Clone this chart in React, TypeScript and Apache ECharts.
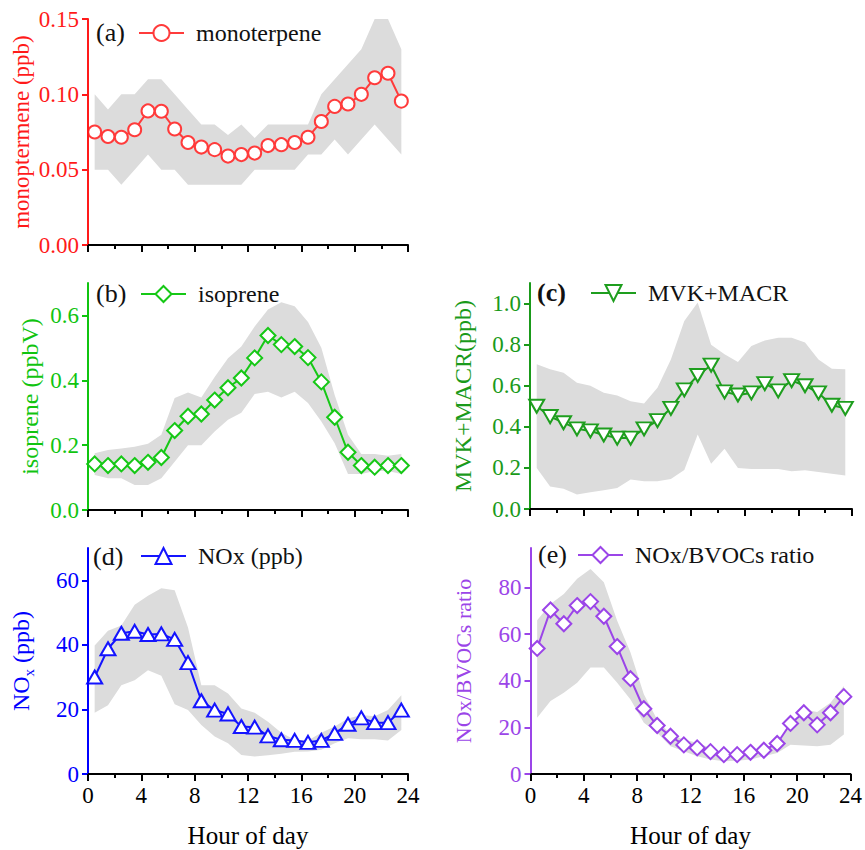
import React, { useEffect, useRef } from "react";
import * as echarts from "echarts";

const hours = [0.5, 1.5, 2.5, 3.5, 4.5, 5.5, 6.5, 7.5, 8.5, 9.5, 10.5, 11.5, 12.5, 13.5, 14.5, 15.5, 16.5, 17.5, 18.5, 19.5, 20.5, 21.5, 22.5, 23.5];
const xTickLabels = [0, 4, 8, 12, 16, 20, 24];

const monoterpene = [0.075, 0.072, 0.0715, 0.0765, 0.089, 0.0888, 0.077, 0.068, 0.065, 0.0633, 0.059, 0.06, 0.061, 0.066, 0.0666, 0.068, 0.0715, 0.082, 0.092, 0.0936, 0.1, 0.111, 0.114, 0.0955];
const monoLow = [0.05, 0.05, 0.04, 0.05, 0.06, 0.05, 0.05, 0.04, 0.04, 0.04, 0.04, 0.04, 0.05, 0.05, 0.05, 0.05, 0.06, 0.06, 0.07, 0.06, 0.07, 0.08, 0.07, 0.06];
const monoHigh = [0.1, 0.09, 0.1, 0.1, 0.11, 0.11, 0.1, 0.09, 0.08, 0.08, 0.073, 0.08, 0.071, 0.08, 0.08, 0.08, 0.08, 0.1, 0.11, 0.12, 0.13, 0.15, 0.15, 0.13];

const isoprene = [0.142, 0.137, 0.142, 0.137, 0.147, 0.162, 0.245, 0.289, 0.296, 0.339, 0.377, 0.407, 0.469, 0.538, 0.51, 0.504, 0.47, 0.395, 0.286, 0.178, 0.137, 0.132, 0.137, 0.137];
const isoLow = [0.108, 0.098, 0.098, 0.077, 0.077, 0.098, 0.149, 0.2, 0.2, 0.242, 0.278, 0.3, 0.358, 0.365, 0.347, 0.365, 0.33, 0.273, 0.206, 0.111, 0.111, 0.12, 0.12, 0.111];
const isoHigh = [0.175, 0.185, 0.19, 0.195, 0.204, 0.232, 0.345, 0.362, 0.347, 0.41, 0.468, 0.504, 0.566, 0.618, 0.641, 0.628, 0.58, 0.5, 0.355, 0.232, 0.173, 0.173, 0.167, 0.173];

const mvkMacr = [0.5, 0.45, 0.42, 0.39, 0.38, 0.36, 0.345, 0.345, 0.39, 0.43, 0.49, 0.58, 0.65, 0.7, 0.57, 0.555, 0.565, 0.61, 0.575, 0.625, 0.6, 0.565, 0.505, 0.49];
const mvkLow = [0.2, 0.11, 0.098, 0.07, 0.081, 0.091, 0.102, 0.143, 0.135, 0.135, 0.146, 0.19, 0.363, 0.22, 0.293, 0.2, 0.195, 0.195, 0.195, 0.184, 0.189, 0.18, 0.172, 0.163];
const mvkHigh = [0.704, 0.68, 0.663, 0.615, 0.6, 0.566, 0.553, 0.525, 0.514, 0.59, 0.728, 0.915, 1.005, 0.8, 0.753, 0.715, 0.793, 0.82, 0.834, 0.834, 0.81, 0.728, 0.683, 0.68];

const nox = [30.05, 38.8, 43.6, 44.2, 43.2, 43.4, 41.7, 34.5, 22.7, 19.8, 18.6, 14.7, 14.5, 11.8, 10.6, 10.4, 9.8, 10.4, 12.6, 15.4, 17.4, 15.9, 15.9, 19.8];
const noxLow = [19, 21.3, 27.5, 29, 32.1, 30.4, 21.6, 19.8, 15.2, 11.6, 9.5, 5.9, 5.4, 5.8, 6.3, 6.9, 7, 7.5, 9.5, 11.1, 10.8, 10.8, 10.4, 13.6];
const noxHigh = [39.8, 44.4, 46, 52.4, 55.2, 57.5, 56.9, 45.4, 27.5, 27.5, 24.9, 20.3, 19, 16.2, 12.8, 10.6, 10.4, 12.8, 14.7, 17.2, 18.3, 17.9, 19.8, 24.4];

const ratio = [53.9, 70.4, 64.5, 72.3, 74, 67.7, 54.7, 40.9, 28, 20.8, 16.2, 12.5, 11.2, 9.6, 8.3, 8.3, 9.3, 10.2, 13.1, 21.7, 26.3, 21.1, 26.3, 33.2];
const ratioLow = [24.1, 31.3, 34.9, 39.2, 45.7, 45.7, 39.2, 32, 22, 17.7, 11.9, 9.8, 7.6, 6.2, 5.5, 5.7, 6.2, 7.6, 9, 12.6, 12.2, 11.9, 12.6, 17];
const ratioHigh = [66, 73, 77.3, 83.8, 88, 82.3, 65.8, 52.2, 34.2, 23.4, 17, 14.8, 13.4, 11.2, 9, 8.3, 7.9, 9, 13.4, 21.3, 27.7, 26.6, 30.6, 37.8];

const yTicksA = [0, 0.05, 0.1, 0.15];
const yTicksB = [0, 0.2, 0.4, 0.6];
const yTicksC = [0, 0.2, 0.4, 0.6, 0.8, 1.0];
const yTicksD = [0, 20, 40, 60];
const yTicksE = [0, 20, 40, 60, 80];

const FONT = "Liberation Serif";
const BAND = "#dcdcdc";

type Panel = {
  key: string;
  label: string;
  bold?: boolean;
  name: string;
  values: number[];
  low: number[];
  high: number[];
  color: string;
  axisColor: string;
  symbol: string;
  symbolSize: number | number[];
  symbolRotate?: number;
  grid: { left: number; top: number; width: number; height: number };
  yMax: number;
  yTicks: number[];
  decimals: number;
  yName: string;
  yNameGap: number;
  yNameSize: number;
  yNamePad?: number[];
  showX: boolean;
  labelPos: [number, number];
  legendPos: [number, number];
};

const panels: Panel[] = [
  {
    key: "a", label: "(a)", name: "monoterpene", values: monoterpene, low: monoLow, high: monoHigh,
    color: "#ff3b3b", axisColor: "#ff1a1a", symbol: "circle", symbolSize: 13,
    grid: { left: 88, top: 19, width: 320, height: 226 }, yMax: 0.15, yTicks: yTicksA, decimals: 2,
    yName: "monoptermene (ppb)", yNameGap: 55, yNameSize: 23, showX: false,
    labelPos: [96, 33], legendPos: [138, 33],
  },
  {
    key: "b", label: "(b)", name: "isoprene", values: isoprene, low: isoLow, high: isoHigh,
    color: "#16c816", axisColor: "#10c410", symbol: "diamond", symbolSize: 15,
    grid: { left: 88, top: 283, width: 320, height: 227 }, yMax: 0.7, yTicks: yTicksB, decimals: 1,
    yName: "isoprene (ppbV)", yNameGap: 46, yNameSize: 24, showX: false,
    labelPos: [96, 294], legendPos: [140, 294],
  },
  {
    key: "c", label: "(c)", bold: true, name: "MVK+MACR", values: mvkMacr, low: mvkLow, high: mvkHigh,
    color: "#1e9e1e", axisColor: "#1a9a1a", symbol: "triangle", symbolSize: [15, 13], symbolRotate: 180,
    grid: { left: 530, top: 283, width: 322, height: 226 }, yMax: 1.1, yTicks: yTicksC, decimals: 1,
    yName: "MVK+MACR(ppb)", yNameGap: 55, yNameSize: 24, showX: false,
    labelPos: [537, 293], legendPos: [590, 293],
  },
  {
    key: "d", label: "(d)", name: "NOx (ppb)", values: nox, low: noxLow, high: noxHigh,
    color: "#1414ff", axisColor: "#0000ff", symbol: "triangle", symbolSize: [15, 13],
    grid: { left: 88, top: 548, width: 320, height: 226 }, yMax: 70, yTicks: yTicksD, decimals: 0,
    yName: "{n|NO}{s|x}{n| (ppb)}", yNameGap: 52, yNameSize: 24, showX: true,
    labelPos: [93, 557], legendPos: [140, 556],
  },
  {
    key: "e", label: "(e)", name: "NOx/BVOCs ratio", values: ratio, low: ratioLow, high: ratioHigh,
    color: "#9b45e8", axisColor: "#9b45e8", symbol: "diamond", symbolSize: 15,
    grid: { left: 530.5, top: 548, width: 321.5, height: 226 }, yMax: 97, yTicks: yTicksE, decimals: 0,
    yName: "NOx/BVOCs ratio", yNameGap: 56, yNameSize: 22, showX: true,
    labelPos: [538, 555], legendPos: [577, 555],
  },
];

export default function App() {
  const ref = useRef<HTMLDivElement>(null);
  useEffect(() => {
    if (!ref.current) return;
    const chart = echarts.init(ref.current, null, { renderer: "svg" });

    const grid: any[] = [];
    const xAxis: any[] = [];
    const yAxis: any[] = [];
    const series: any[] = [];
    const legend: any[] = [];
    const graphic: any[] = [];

    panels.forEach((p, i) => {
      grid.push({ ...p.grid, containLabel: false });
      xAxis.push({
        gridIndex: i, type: "value", min: 0, max: 24, interval: 4,
        axisLine: { show: true, onZero: false, lineStyle: { color: "#000", width: 2 } },
        axisTick: { show: true, length: 7, lineStyle: { color: "#000", width: 2 } },
        minorTick: { show: true, splitNumber: 2, length: 4, lineStyle: { color: "#000", width: 2 } },
        splitLine: { show: false }, minorSplitLine: { show: false },
        axisLabel: {
          show: p.showX, color: "#000", fontSize: 23, fontFamily: FONT, margin: 10,
          customValues: xTickLabels,
        },
        name: p.showX ? "Hour of day" : "",
        nameLocation: "middle", nameGap: 49,
        nameTextStyle: { color: "#000", fontSize: 25, fontFamily: FONT },
        z: 10,
      });
      const nameStyle: any = { color: p.axisColor, fontSize: p.yNameSize, fontFamily: FONT };
      if (p.key === "d") {
        nameStyle.rich = {
          n: { color: p.axisColor, fontSize: 24, fontFamily: FONT, lineHeight: 30 },
          s: { color: p.axisColor, fontSize: 15, fontFamily: FONT, lineHeight: 15, verticalAlign: "bottom" },
        };
      }
      yAxis.push({
        gridIndex: i, type: "value", min: 0, max: p.yMax,
        axisLine: { show: true, lineStyle: { color: p.axisColor, width: 2 } },
        axisTick: { show: true, length: 6, lineStyle: { color: p.axisColor, width: 2 }, customValues: p.yTicks },
        splitLine: { show: false },
        axisLabel: {
          color: p.axisColor, fontSize: 23, fontFamily: FONT, margin: 9,
          customValues: p.yTicks,
          formatter: (v: number) => v.toFixed(p.decimals),
        },
        name: p.yName, nameLocation: "middle", nameGap: p.yNameGap, nameRotate: 90,
        nameTextStyle: nameStyle,
        z: 10,
      });
      const low = p.low;
      const high = p.high;
      series.push({
        type: "custom", name: "range" + p.key, xAxisIndex: i, yAxisIndex: i,
        data: hours.map((h, k) => [h, low[k], high[k]]),
        encode: { x: 0, y: [1, 2] },
        silent: true, z: 1, clip: true,
        renderItem: (params: any, api: any) => {
          if (params.dataIndex !== 0) return null;
          const pts: number[][] = [];
          for (let k = 0; k < hours.length; k++) pts.push(api.coord([hours[k], high[k]]));
          for (let k = hours.length - 1; k >= 0; k--) pts.push(api.coord([hours[k], low[k]]));
          return { type: "polygon", shape: { points: pts }, style: { fill: BAND, stroke: "none" } };
        },
      });
      series.push({
        type: "line", name: p.name, xAxisIndex: i, yAxisIndex: i,
        data: hours.map((h, k) => [h, p.values[k]]),
        symbol: p.symbol, symbolSize: p.symbolSize, symbolRotate: p.symbolRotate || 0,
        showAllSymbol: true,
        lineStyle: { color: p.color, width: 2 },
        itemStyle: { color: "#fff", borderColor: p.color, borderWidth: 2 },
        z: 5,
      });
      legend.push({
        data: [p.name], left: p.legendPos[0], top: p.legendPos[1] - 12,
        itemWidth: 45, itemHeight: 20, padding: 0, selectedMode: false,
        textStyle: { color: "#111", fontSize: 24, fontFamily: FONT, padding: [0, 0, 0, 7] },
      });
      graphic.push({
        type: "text", left: p.labelPos[0], top: p.labelPos[1] - 14, z: 100,
        style: { text: p.label, fontSize: 26, fontFamily: FONT, fill: "#111", fontWeight: p.bold ? "bold" : "normal" },
      });
    });

    chart.setOption({
      animation: false,
      backgroundColor: "#fff",
      textStyle: { fontFamily: FONT },
      grid, xAxis, yAxis, series, legend, graphic,
    });
    return () => chart.dispose();
  }, []);
  return <div ref={ref} style={{ position: "absolute", left: 0, top: 0, width: 865, height: 850 }} />;
}
